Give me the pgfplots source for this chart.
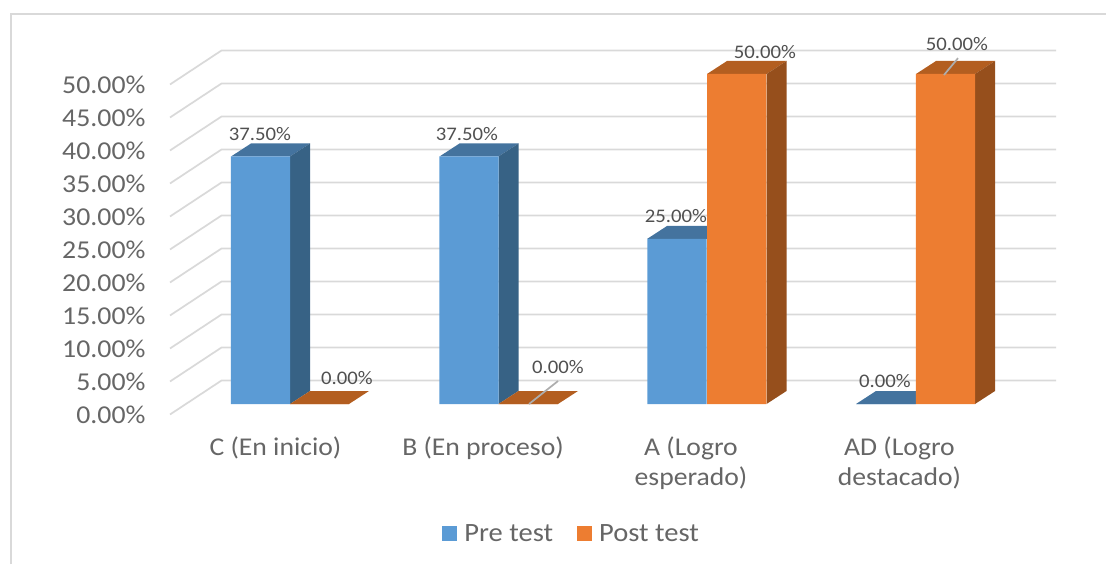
\documentclass[border=0pt]{standalone}
\usepackage{fontspec}
\usepackage{pgfplots}
\pgfplotsset{compat=1.18}
\setmainfont[FakeStretch=1.08]{Carlito}
\definecolor{preF}{HTML}{5B9BD5}
\definecolor{preT}{HTML}{44739E}
\definecolor{preS}{HTML}{376285}
\definecolor{postF}{HTML}{ED7D31}
\definecolor{postT}{HTML}{B35E20}
\definecolor{postS}{HTML}{964F1C}
\definecolor{gl}{HTML}{D9D9D9}
\definecolor{tk}{HTML}{666666}
\definecolor{dl}{HTML}{505050}
\pgfplotsset{base/.style={
  at={(127.5pt,0pt)}, anchor=south west,
  scale only axis, width=702pt, height=423pt,
  xmin=170, xmax=1106, clip=false,
  axis line style={draw=none}, major tick length=0pt,
  tick style={draw=none}}}
\begin{document}
\begin{tikzpicture}
\useasboundingbox (0,0) rectangle (829.5pt,423pt);
% walls and value axis
\begin{axis}[base, ymin=-22.65, ymax=62.8, xtick=\empty,
  ytick={0,5,10,15,20,25,30,35,40,45,50},
  yticklabels={0.00\%,5.00\%,10.00\%,15.00\%,20.00\%,25.00\%,30.00\%,35.00\%,40.00\%,45.00\%,50.00\%},
  yticklabel style={font=\fontsize{19.3}{20}\selectfont, text=tk, inner sep=0pt, xshift=-18.2pt, yshift=-0.5pt},
  gline/.style={draw=gl, line width=1.3pt}]
\addplot[draw=gl, line width=1.6pt] coordinates {(11,-22.65) (11,60.68) (1106,60.68)};
\addplot[gline] coordinates {(170,0) (221.5,5.15) (1056,5.15)};
\addplot[gline] coordinates {(170,5) (221.5,10.15) (1056,10.15)};
\addplot[gline] coordinates {(170,10) (221.5,15.15) (1056,15.15)};
\addplot[gline] coordinates {(170,15) (221.5,20.15) (1056,20.15)};
\addplot[gline] coordinates {(170,20) (221.5,25.15) (1056,25.15)};
\addplot[gline] coordinates {(170,25) (221.5,30.15) (1056,30.15)};
\addplot[gline] coordinates {(170,30) (221.5,35.15) (1056,35.15)};
\addplot[gline] coordinates {(170,35) (221.5,40.15) (1056,40.15)};
\addplot[gline] coordinates {(170,40) (221.5,45.15) (1056,45.15)};
\addplot[gline] coordinates {(170,45) (221.5,50.15) (1056,50.15)};
\addplot[gline] coordinates {(170,50) (221.5,55.15) (1056,55.15)};
\end{axis}
% bars
\begin{axis}[base, ymin=-24.24, ymax=61.21, ytick=\empty,
  xtick={275.5,483,691,899.5},
  xticklabels={C (En inicio),B (En proceso),{A (Logro\\esperado)},{AD (Logro\\destacado)}},
  xticklabel style={font=\fontsize{19.2}{22.5}\selectfont, text=tk, align=center, inner sep=0pt, yshift=95.5pt},
  legend style={at={(axis cs:572,-19.7)}, anchor=center, draw=none, fill=none,
    legend columns=2, font=\fontsize{19.8}{20}\selectfont, text=tk,
    /tikz/every even column/.append style={column sep=16pt},
    /tikz/every odd column/.append style={column sep=3.5pt}}]
% Pre test: top and side faces
\addplot[fill=preT, draw=none, forget plot] coordinates {(231,37.5) (290,37.5) (310,39.47) (251,39.47)} -- cycle;
\addplot[fill=preS, draw=none, forget plot] coordinates {(290,37.5) (310,39.47) (310,1.97) (290,0)} -- cycle;
\addplot[fill=preT, draw=none, forget plot] coordinates {(439.5,37.5) (498.5,37.5) (518.5,39.47) (459.5,39.47)} -- cycle;
\addplot[fill=preS, draw=none, forget plot] coordinates {(498.5,37.5) (518.5,39.47) (518.5,1.97) (498.5,0)} -- cycle;
\addplot[fill=preT, draw=none, forget plot] coordinates {(647,25) (707,25) (727,26.97) (667,26.97)} -- cycle;
\addplot[fill=preT, draw=none, forget plot] coordinates {(856,0) (916,0) (936,1.97) (876,1.97)} -- cycle;
% Pre test: front faces
\addplot[ybar, bar width=44.5pt, bar shift=0pt, fill=preF, draw=none,
  legend image code/.code={\fill[preF] (0pt,-5.2pt) rectangle (11pt,5.8pt);}]
  coordinates {(260.5,37.5) (469,37.5) (677,25) (886,0)};
\addlegendentry{Pre test}
% Post test: top and side faces
\addplot[fill=postT, draw=none, forget plot] coordinates {(290,0) (349,0) (369,1.97) (310,1.97)} -- cycle;
\addplot[fill=postT, draw=none, forget plot] coordinates {(498.5,0) (558,0) (578,1.97) (518.5,1.97)} -- cycle;
\addplot[fill=postT, draw=none, forget plot] coordinates {(707,50) (766.5,50) (786.5,51.97) (727,51.97)} -- cycle;
\addplot[fill=postS, draw=none, forget plot] coordinates {(766.5,50) (786.5,51.97) (786.5,1.97) (766.5,0)} -- cycle;
\addplot[fill=postT, draw=none, forget plot] coordinates {(916,50) (975,50) (995,51.97) (936,51.97)} -- cycle;
\addplot[fill=postS, draw=none, forget plot] coordinates {(975,50) (995,51.97) (995,1.97) (975,0)} -- cycle;
% Post test: front faces
\addplot[ybar, bar width=44.5pt, bar shift=0pt, fill=postF, draw=none,
  legend image code/.code={\fill[postF] (0pt,-5.2pt) rectangle (11pt,5.8pt);}]
  coordinates {(319.5,0) (528.25,0) (736.75,50) (945.5,50)};
\addlegendentry{Post test}
% leader lines
\addplot[draw=black!32, line width=1.3pt, forget plot] coordinates {(529,0) (558,3.48)};
\addplot[draw=black!32, line width=1.3pt, forget plot] coordinates {(944,49.85) (958,52.4)};
% data labels
\begin{scope}[every node/.style={font=\fontsize{14.4}{15}\selectfont, text=dl, inner sep=0pt}]
\node at (axis cs:260,40.9) {37.50\%};
\node at (axis cs:467,40.9) {37.50\%};
\node at (axis cs:676,28.5) {25.00\%};
\node at (axis cs:347,3.9) {0.00\%};
\node at (axis cs:558,5.6) {0.00\%};
\node at (axis cs:885,3.5) {0.00\%};
\node at (axis cs:765,53.3) {50.00\%};
\node at (axis cs:957,54.5) {50.00\%};
\end{scope}
\end{axis}
\end{tikzpicture}
\end{document}
